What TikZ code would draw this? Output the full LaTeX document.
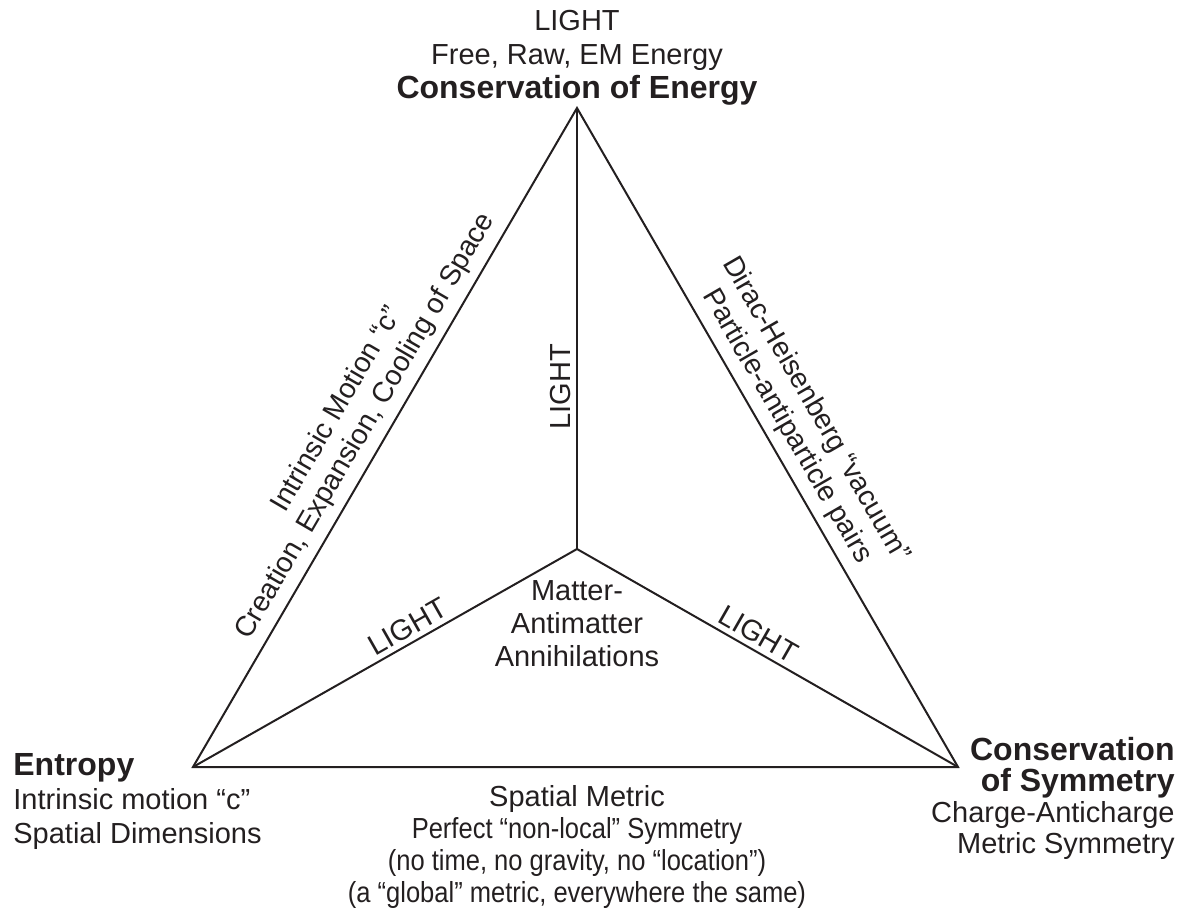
\documentclass[tikz,border=0pt]{standalone}
\usepackage{fontspec}
\setmainfont{Liberation Sans}
\newfontfamily\narrowsans[FakeStretch=0.88]{Liberation Sans}
\usetikzlibrary{positioning}
\definecolor{ink}{HTML}{231F20}
\newcommand{\boldhead}[1]{{\fontsize{16}{17}\selectfont\bfseries #1}}
\tikzstyle{edge} = [line width=1pt, line join=miter, draw=ink]
\tikzstyle{block} = [inner sep=0pt, text=ink]
\tikzstyle{lighttext} = [sloped, above, inner sep=2.5pt, text=ink]
\tikzstyle{sidetext} = [sloped, above, align=center, inner sep=4pt, text=ink, font=\fontsize{14.2}{16.5}\selectfont]
\tikzstyle{every node}=[font=\fontsize{14.5}{16.5}\selectfont]

\begin{document}
\begin{tikzpicture}[x=0.5pt, y=-0.5pt]
    \useasboundingbox (0,0) rectangle (1185,907);
    %corners and centre of the triangle
    \coordinate (T) at (577,108);
    \coordinate (L) at (193,767);
    \coordinate (R) at (958,767);
    \coordinate (C) at (577,549);

    %outer triangle with side texts
    \draw [edge] (L) -- node [sidetext] {Intrinsic Motion “c”\\Creation, Expansion, Cooling of Space} (T)
        -- node [sidetext] {Dirac-Heisenberg “vacuum”\\Particle-antiparticle pairs} (R) -- cycle;

    %inner spokes
    \draw [edge] (C) -- node [lighttext, pos=0.368] {LIGHT} (T);
    \draw [edge] (L) -- node [lighttext, pos=0.58] {LIGHT} (C);
    \draw [edge] (C) -- node [lighttext, pos=0.455] {LIGHT} (R);

    %texts at the corners
    \node (energy) [block, align=center, above=1pt of T, font=\fontsize{14.5}{17}\selectfont] {LIGHT\\Free, Raw, EM Energy\\\boldhead{Conservation of Energy}};
    \node (entropy) [block, align=left, anchor=north west, font=\fontsize{14.5}{17}\selectfont] at (13,753) {\boldhead{Entropy}\\Intrinsic motion “c”\\Spatial Dimensions};
    \node (symmetry) [block, align=right, anchor=north east, font=\fontsize{14.5}{15.5}\selectfont] at (1175,737) {\boldhead{Conservation}\\\boldhead{of Symmetry}\\Charge-Anticharge\\Metric Symmetry};
    \node (metric) [block, align=center, anchor=north, font=\fontsize{14.5}{16}\selectfont] at (577,785) {Spatial Metric\\{\narrowsans Perfect “non-local” Symmetry}\\{\narrowsans (no time, no gravity, no “location”)}\\{\narrowsans (a “global” metric, everywhere the same)}};
    \node (annihil) [block, align=center, anchor=north] at (577,580) {Matter-\\Antimatter\\Annihilations};
\end{tikzpicture}
\end{document}
